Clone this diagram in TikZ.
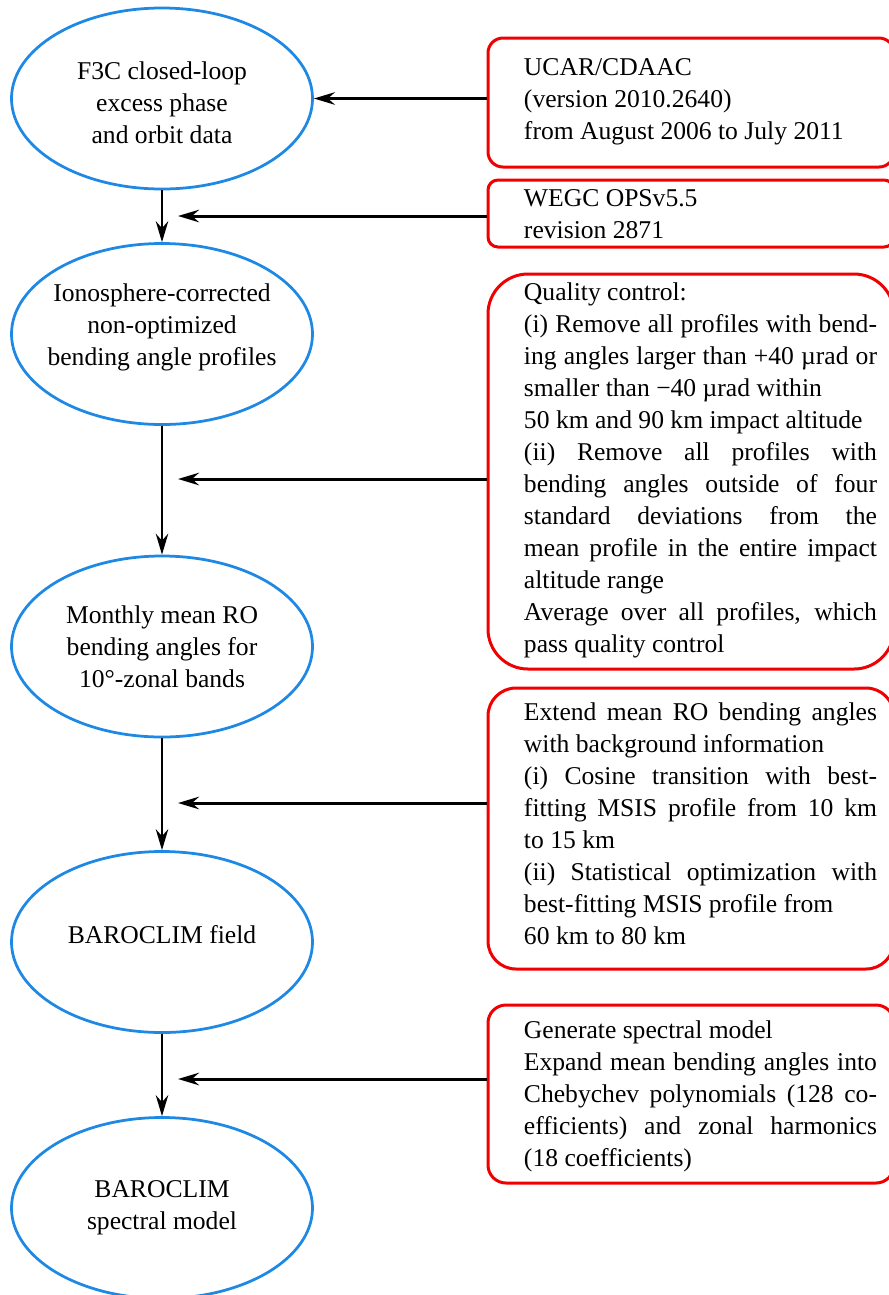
\documentclass[tikz,border=0pt]{standalone}
\usepackage{fontspec}
\setmainfont{Liberation Serif}
\usetikzlibrary{arrows.meta,shapes.geometric}

\definecolor{ellblue}{RGB}{30,136,229}
\definecolor{boxred}{RGB}{240,0,0}

\tikzset{every picture/.style={line width=0.8pt}}
\tikzset{
  dataell/.style={ellipse, draw=ellblue, line width=1.1pt, minimum width=120.4pt, minimum height=72.4pt, inner sep=0pt},
  elltxt/.style={inner sep=0pt, align=center, font=\fontsize{10.24pt}{12.8pt}\selectfont},
  infobox/.style={rectangle, draw=boxred, line width=1.2pt, minimum width=162.4pt, inner sep=0pt},
  infotxt/.style={inner sep=0pt, text width=141.2pt, align=justify, font=\fontsize{10.24pt}{12.8pt}\selectfont},
  flow/.style={-{Stealth[length=8.4pt,width=5pt,inset=2.8pt]}, line width=0.8pt},
  feed/.style={-{Stealth[length=8.4pt,width=5pt,inset=2.8pt]}, line width=1.2pt},
}

\begin{document}
\begin{tikzpicture}[x=0.4pt,y=0.4pt,yscale=-1,xscale=1]
    \useasboundingbox (0,0) rectangle (888,1295);

    %Shape: Ellipse
    \node[dataell] (f3c) at (162,98.5) {};
    %Shape: Ellipse
    \node[dataell] (iono) at (162,334) {};
    %Shape: Ellipse
    \node[dataell] (mean) at (162,646.5) {};
    %Shape: Ellipse
    \node[dataell] (field) at (162,942) {};
    %Shape: Ellipse
    \node[dataell] (spec) at (162,1208) {};

    % Text Node
    \node[elltxt] (f3cTxt) at (162,103) {F3C closed-loop\\excess phase\\and orbit data};
    % Text Node
    \node[elltxt] (ionoTxt) at (162,327) {Ionosphere-corrected\\non-optimized\\bending angle profiles};
    % Text Node
    \node[elltxt] (meanTxt) at (162,647) {Monthly mean RO\\bending angles for\\10°-zonal bands};
    % Text Node
    \node[elltxt] (fieldTxt) at (162,935) {BAROCLIM field};
    % Text Node
    \node[elltxt] (specTxt) at (162,1207.5) {BAROCLIM\\spectral model};

    %Shape: Rounded Rectangle
    \node[infobox, minimum height=51.6pt, rounded corners=6pt] (ucar) at (691,102.5) {};
    %Shape: Rounded Rectangle
    \node[infobox, minimum height=26.8pt, rounded corners=4pt] (wegc) at (691,213.5) {};
    %Shape: Rounded Rectangle
    \node[infobox, minimum height=158pt, rounded corners=16pt] (qc) at (691,471.5) {};
    %Shape: Rounded Rectangle
    \node[infobox, minimum height=112.4pt, rounded corners=11.2pt] (ext) at (691,828.5) {};
    %Shape: Rounded Rectangle
    \node[infobox, minimum height=71.2pt, rounded corners=7.2pt] (gen) at (691,1094) {};

    % Text Node
    \node[infotxt] (ucarTxt) at (700.5,102) {UCAR/CDAAC\newline
      (version 2010.2640)\newline
      from August 2006 to July 2011};
    % Text Node
    \node[infotxt] (wegcTxt) at (700.5,214) {WEGC OPSv5.5\newline
      revision 2871};
    % Text Node
    \node[infotxt] (qcTxt) at (700.5,470) {Quality control:\newline
      (i) Remove all profiles with bend-\linebreak
      ing angles larger than +40 µrad or\linebreak
      smaller than −40 µrad within\newline
      50 km and 90 km impact altitude\newline
      (ii) Remove all profiles with\linebreak
      bending angles outside of four\linebreak
      standard deviations from the\linebreak
      mean profile in the entire impact\linebreak
      altitude range\newline
      Average over all profiles, which\linebreak
      pass quality control};
    % Text Node
    \node[infotxt] (extTxt) at (700.5,823.5) {Extend mean RO bending angles\linebreak
      with background information\newline
      (i) Cosine transition with best-\linebreak
      fitting MSIS profile from 10 km\linebreak
      to 15 km\newline
      (ii) Statistical optimization with\linebreak
      best-fitting MSIS profile from\newline
      60 km to 80 km};
    % Text Node
    \node[infotxt] (genTxt) at (700.5,1096) {Generate spectral model\newline
      Expand mean bending angles into\linebreak
      Chebychev polynomials (128 co-\linebreak
      efficients) and zonal harmonics\linebreak
      (18 coefficients)};

    % joints on the main flow
    \coordinate (j2) at (178,216);
    \coordinate (j3) at (178,479);
    \coordinate (j4) at (178,803);
    \coordinate (j5) at (178,1079);

    %Straight Lines
    \draw[flow] (f3c.south) -- (iono.north);
    \draw[flow] (iono.south) -- (mean.north);
    \draw[flow] (mean.south) -- (field.north);
    \draw[flow] (field.south) -- (spec.north);

    %Straight Lines
    \draw[feed] (ucar.west |- f3c.east) -- (f3c.east);
    \draw[feed] (wegc.west |- j2) -- (j2);
    \draw[feed] (qc.west |- j3) -- (j3);
    \draw[feed] (ext.west |- j4) -- (j4);
    \draw[feed] (gen.west |- j5) -- (j5);
\end{tikzpicture}
\end{document}
